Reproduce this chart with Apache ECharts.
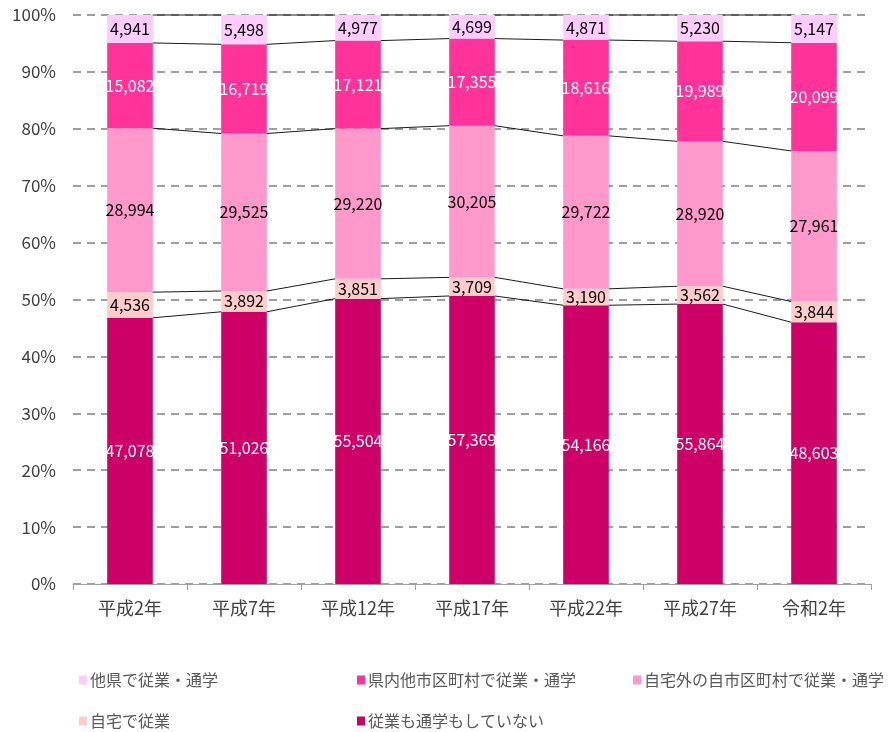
<!DOCTYPE html>
<html>
<head>
<meta charset="utf-8">
<script src="https://cdn.jsdelivr.net/npm/echarts@6/dist/echarts.min.js"></script>
<style>
  html, body { margin: 0; padding: 0; background: #fff; }
  #chart { width: 890px; height: 732px; }
</style>
</head>
<body>
<div id="chart"></div>
<script>
/* -------------------------------------------------------------------------- */
/*                       Stacked 100% bar with series lines                   */
/* -------------------------------------------------------------------------- */

const years = ['平成2年', '平成7年', '平成12年', '平成17年', '平成22年', '平成27年', '令和2年'];

// bottom to top
const notWorking = [47078, 51026, 55504, 57369, 54166, 55864, 48603];
const atHome = [4536, 3892, 3851, 3709, 3190, 3562, 3844];
const ownCity = [28994, 29525, 29220, 30205, 29722, 28920, 27961];
const otherCity = [15082, 16719, 17121, 17355, 18616, 19989, 20099];
const otherPref = [4941, 5498, 4977, 4699, 4871, 5230, 5147];

const yTicks = [0, 10, 20, 30, 40, 50, 60, 70, 80, 90, 100];

const names = [
  '従業も通学もしていない',
  '自宅で従業',
  '自宅外の自市区町村で従業・通学',
  '県内他市区町村で従業・通学',
  '他県で従業・通学'
];
const colors = ['#CC0066', '#FFCCCC', '#FF99CC', '#FF3399', '#FFCCFF'];
const labelColors = ['#ffffff', '#000000', '#000000', '#ffffff', '#000000'];
const raw = [notWorking, atHome, ownCity, otherCity, otherPref];

const totals = years.map((_, i) => raw.reduce((s, arr) => s + arr[i], 0));
const pct = raw.map(arr => arr.map((v, i) => (v / totals[i]) * 100));

// cumulative tops of each segment
const cum = [];
pct.forEach((arr, k) => {
  cum.push(arr.map((v, i) => (k ? cum[k - 1][i] : 0) + v));
});

const lineData = [];
cum.forEach(level => {
  for (let i = 0; i < years.length - 1; i += 1) {
    lineData.push([i, level[i], level[i + 1]]);
  }
});

const fontFamily = "'Noto Sans CJK JP', 'Noto Sans', sans-serif";

const chart = echarts.init(document.getElementById('chart'));

const barSeries = names.map((name, k) => ({
  name: name,
  type: 'bar',
  stack: 'total',
  barWidth: '40%',
  itemStyle: { color: colors[k] },
  label: {
    show: true,
    position: 'inside',
    color: labelColors[k],
    fontSize: 16,
    fontFamily: fontFamily,
    formatter: p => raw[k][p.dataIndex].toLocaleString('en-US')
  },
  emphasis: { disabled: true },
  data: pct[k]
}));

const seriesLines = {
  type: 'custom',
  silent: true,
  z: 5,
  renderItem: (params, api) => {
    const i = api.value(0);
    const p1 = api.coord([i, api.value(1)]);
    const p2 = api.coord([i + 1, api.value(2)]);
    const half = api.size([1, 0])[0] * 0.2;
    return {
      type: 'line',
      shape: { x1: p1[0] + half, y1: p1[1], x2: p2[0] - half, y2: p2[1] },
      style: { stroke: '#1a1a1a', lineWidth: 1 }
    };
  },
  data: lineData
};

const legendOrder = [4, 3, 2, 1, 0];
const legendPos = [[74, 667], [352, 667], [628, 667], [74, 708], [352, 708]];

const option = {
  animation: false,
  textStyle: { fontFamily: fontFamily },
  grid: { left: 73, right: 19, top: 15, bottom: 148 },
  legend: legendOrder.map((k, j) => ({
    data: [names[k]],
    left: legendPos[j][0],
    top: legendPos[j][1],
    icon: 'rect',
    itemWidth: 8,
    itemHeight: 9,
    itemGap: 4,
    selectedMode: false,
    textStyle: { color: '#595959', fontSize: 16, fontFamily: fontFamily, padding: [0, 0, 0, -2] }
  })),
  xAxis: {
    type: 'category',
    data: years,
    axisLine: { lineStyle: { color: '#a0a0a0', width: 1 } },
    axisTick: { show: true, length: 6, lineStyle: { color: '#a0a0a0' } },
    axisLabel: { color: '#404040', fontSize: 18, margin: 15 }
  },
  yAxis: {
    type: 'value',
    min: yTicks[0],
    max: yTicks[yTicks.length - 1],
    interval: yTicks[1] - yTicks[0],
    axisLine: { show: false },
    axisTick: { show: false },
    axisLabel: { color: '#404040', fontSize: 17, margin: 17, formatter: '{value}%' },
    splitLine: { lineStyle: { color: '#808080', width: 1.5, type: [8, 6] } }
  },
  series: barSeries.concat([seriesLines])
};

chart.setOption(option);
</script>
</body>
</html>
